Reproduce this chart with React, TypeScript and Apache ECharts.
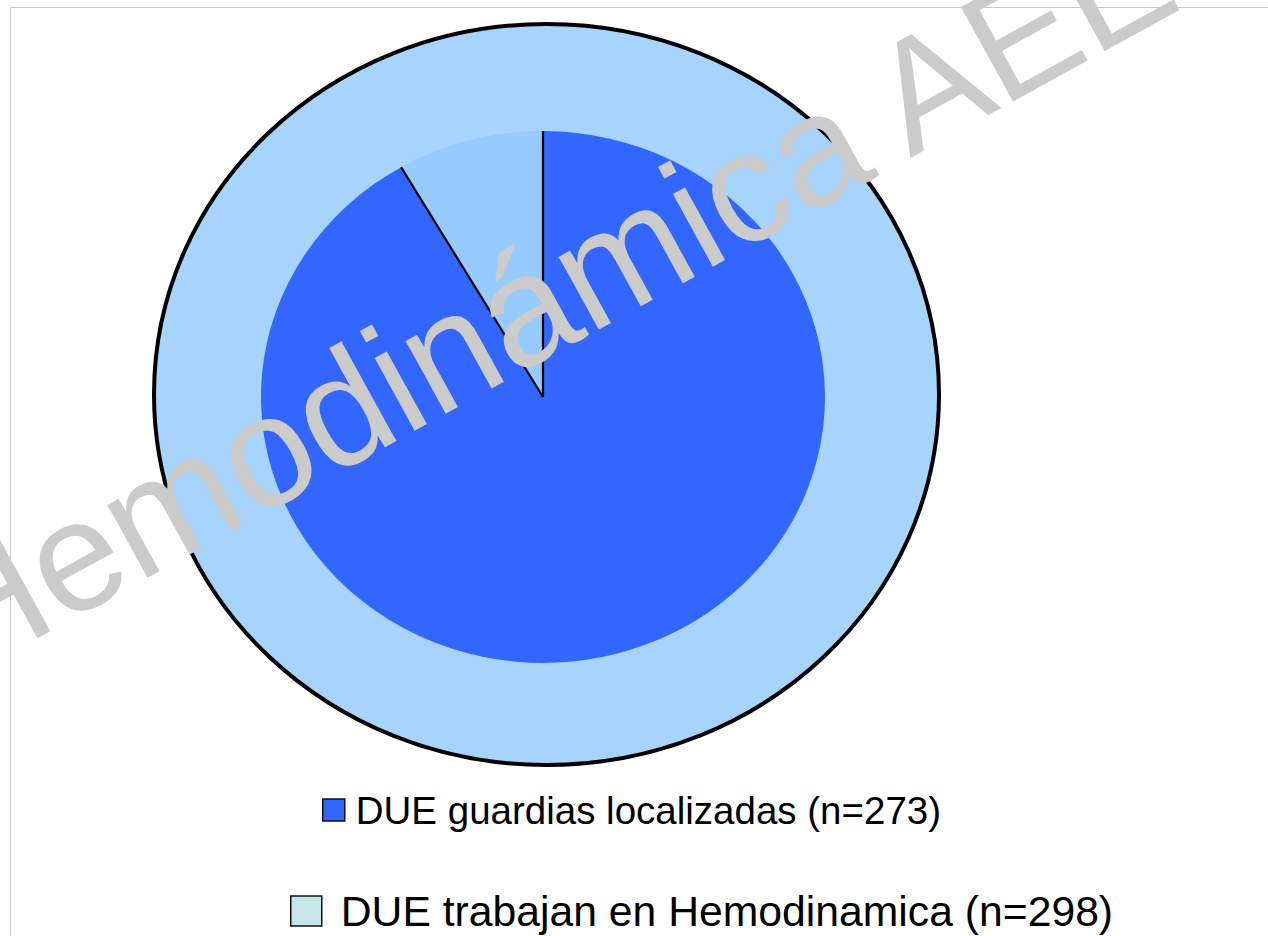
import React, { useEffect, useRef } from 'react';
import * as echarts from 'echarts';

// ---- data ----
const groupNames = ['DUE trabajan en Hemodinamica (n=298)', 'DUE guardias localizadas (n=273)'];
const groupCounts = [298, 273];
const remainderName = 'DUE sin guardias localizadas';
const watermarkText = 'Hemodinámica AEEC';

const FONT = '"Liberation Sans", Arial, Helvetica, sans-serif';

export default function App() {
  const ref = useRef<HTMLDivElement>(null);

  useEffect(() => {
    const chart = echarts.init(ref.current as HTMLDivElement, null, { renderer: 'svg' });
    const total = groupCounts[0];
    const inner = groupCounts[1];
    const remainder = total - inner;

    // geometry
    const outer = { cx: 546.5, cy: 394.5, rx: 392.5, ry: 370.5 };
    const pie = { cx: 543, cy: 397, rx: 282, ry: 266 };
    const start = -Math.PI / 2;
    const angleOf = (v: number) => (v / total) * Math.PI * 2;

    const option: any = {
      animation: false,
      backgroundColor: '#ffffff',
      legend: [
        {
          data: [
            {
              name: groupNames[1],
              icon: 'rect',
              itemStyle: { color: '#3366ff', borderColor: '#111111', borderWidth: 1.5 },
            },
          ],
          left: 322,
          top: 790,
          padding: 0,
          itemWidth: 22,
          itemHeight: 22,
          selectedMode: false,
          textStyle: {
            fontFamily: FONT,
            fontSize: 38.5,
            color: '#000000',
            lineHeight: 40,
            padding: [0, 0, 0, 6],
          },
        },
        {
          data: [
            {
              name: groupNames[0],
              icon: 'rect',
              itemStyle: { color: '#c6e6ea', borderColor: '#111111', borderWidth: 1.5 },
            },
          ],
          left: 290,
          top: 881,
          padding: 0,
          itemWidth: 31,
          itemHeight: 30,
          selectedMode: false,
          textStyle: {
            fontFamily: FONT,
            fontSize: 42.7,
            color: '#000000',
            lineHeight: 46,
            padding: [14, 0, 0, 14],
          },
        },
      ],
      graphic: [
        {
          type: 'rect',
          z: 0,
          silent: true,
          shape: { x: 10.5, y: 7.5, width: 1400, height: 1100 },
          style: { fill: 'none', stroke: '#c8c8c8', lineWidth: 1 },
        },
        {
          type: 'text',
          z: 100,
          silent: true,
          x: -64,
          y: 632,
          rotation: 0.503,
          style: {
            text: watermarkText,
            fontFamily: FONT,
            fontSize: 157,
            fill: '#cbcbcb',
            align: 'left',
            verticalAlign: 'middle',
          },
        },
      ],
      series: [
        {
          type: 'custom',
          name: groupNames[0],
          coordinateSystem: 'none',
          silent: true,
          z: 1,
          data: [total],
          renderItem: () => ({
            type: 'ellipse',
            shape: { cx: outer.cx, cy: outer.cy, rx: outer.rx, ry: outer.ry },
            style: { fill: '#a6d4fd', stroke: '#000000', lineWidth: 4 },
          }),
        },
        {
          type: 'custom',
          name: groupNames[1],
          coordinateSystem: 'none',
          silent: true,
          z: 2,
          data: [inner],
          renderItem: (_p: any, api: any) => {
            const v = api.value(0);
            return {
              type: 'group',
              x: pie.cx,
              y: pie.cy,
              scaleY: pie.ry / pie.rx,
              children: [
                {
                  type: 'sector',
                  shape: { cx: 0, cy: 0, r0: 0, r: pie.rx, startAngle: start, endAngle: start + angleOf(v), clockwise: true },
                  style: { fill: '#3366ff' },
                },
              ],
            };
          },
        },
        {
          type: 'custom',
          name: remainderName,
          coordinateSystem: 'none',
          silent: true,
          z: 3,
          data: [remainder],
          renderItem: (_p: any, api: any) => {
            const v = api.value(0);
            const a0 = start + angleOf(inner);
            const a1 = a0 + angleOf(v);
            return {
              type: 'group',
              x: pie.cx,
              y: pie.cy,
              scaleY: pie.ry / pie.rx,
              children: [
                {
                  type: 'sector',
                  shape: { cx: 0, cy: 0, r0: 0, r: pie.rx, startAngle: a0, endAngle: a1, clockwise: true },
                  style: { fill: '#97cafd' },
                },
                {
                  type: 'line',
                  shape: { x1: 0, y1: 0, x2: pie.rx * Math.cos(a0), y2: pie.rx * Math.sin(a0) },
                  style: { stroke: '#000000', lineWidth: 2.2 },
                },
                {
                  type: 'line',
                  shape: { x1: 0, y1: 0, x2: pie.rx * Math.cos(a1), y2: pie.rx * Math.sin(a1) },
                  style: { stroke: '#000000', lineWidth: 2.2 },
                },
              ],
            };
          },
        },
      ],
    };

    chart.setOption(option);
    return () => chart.dispose();
  }, []);

  return (
    <div
      ref={ref}
      style={{ position: 'absolute', left: 0, top: 0, width: 1268, height: 936 }}
    />
  );
}
